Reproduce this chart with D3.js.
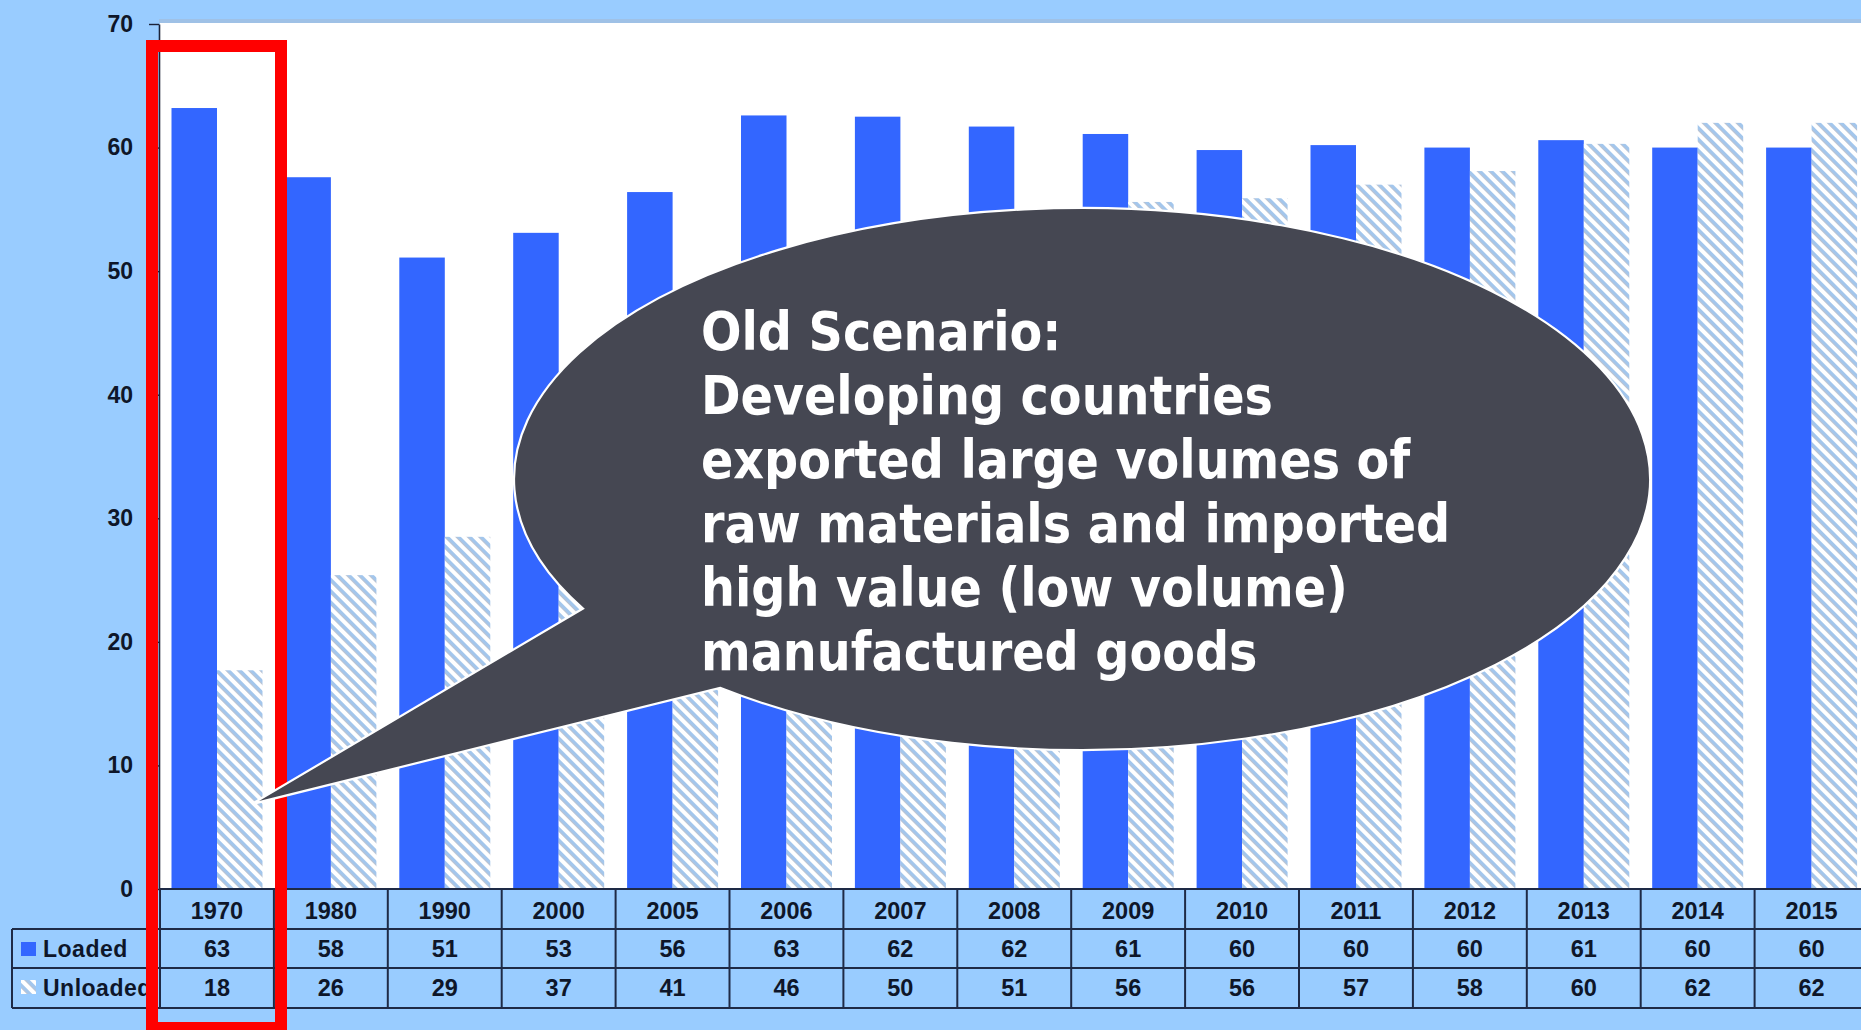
<!DOCTYPE html>
<html><head><meta charset="utf-8">
<script src="https://cdn.jsdelivr.net/npm/d3@7"></script>
<style>
html,body{margin:0;padding:0;background:#99CCFF;overflow:hidden;}
</style></head>
<body>
<script>
const years = ["1970","1980","1990","2000","2005","2006","2007","2008","2009","2010","2011","2012","2013","2014","2015"];
const series = ["Loaded","Unloaded"];
const loaded   = [63.2, 57.6, 51.1, 53.1, 56.4, 62.6, 62.5, 61.7, 61.1, 59.8, 60.2, 60.0, 60.6, 60.0, 60.0];
const unloaded = [17.7, 25.4, 28.5, 37.0, 41.0, 46.0, 50.0, 51.0, 55.6, 55.9, 57.0, 58.1, 60.3, 62.0, 62.0];
const loadedLabels   = ["63","58","51","53","56","63","62","62","61","60","60","60","61","60","60"];
const unloadedLabels = ["18","26","29","37","41","46","50","51","56","56","57","58","60","62","62"];
const yTicks = [0,10,20,30,40,50,60,70];
const calloutLines = ["Old Scenario:","Developing countries","exported large volumes of","raw materials and imported","high value (low volume)","manufactured goods"];

const W = 1861, H = 1030;
const svg = d3.select("body").append("svg").attr("width", W).attr("height", H).style("display","block");
const defs = svg.append("defs");

const pat = defs.append("pattern").attr("id","hatch").attr("patternUnits","userSpaceOnUse")
  .attr("width",8).attr("height",8).attr("patternTransform","rotate(45)");
pat.append("rect").attr("width",8).attr("height",8).attr("fill","#ffffff");
pat.append("rect").attr("y",0).attr("width",8).attr("height",3).attr("fill","#a3c6ec");
pat.append("rect").attr("y",3).attr("width",8).attr("height",0.9).attr("fill","#b3bdcc");

const x0 = 160, colW = 113.9;
const x = d3.scaleBand().domain(years).range([x0, x0 + colW*years.length]);
const xs = d3.scaleBand().domain(series).range([11.5, 102.5]);
const y = d3.scaleLinear().domain([0,70]).range([889, 24]);

// background bands
svg.append("rect").attr("x",0).attr("y",0).attr("width",W).attr("height",H).attr("fill","#99CCFF");
svg.append("rect").attr("x",159).attr("y",19).attr("width",W-159).attr("height",4).attr("fill","#9fc1e6");
svg.append("rect").attr("x",x0).attr("y",23).attr("width",W-x0).attr("height",y(0)-23).attr("fill","#ffffff");

// bars
const groups = svg.append("g").selectAll("g").data(years).join("g")
  .attr("transform", d => `translate(${x(d)},0)`);
groups.append("rect")
  .attr("x", xs("Loaded")).attr("width", xs.bandwidth())
  .attr("y", (d,i) => y(loaded[i])).attr("height", (d,i) => y(0)-y(loaded[i]))
  .attr("fill","#3366FF");
groups.append("rect")
  .attr("x", xs("Unloaded")).attr("width", xs.bandwidth())
  .attr("y", (d,i) => y(unloaded[i])).attr("height", (d,i) => y(0)-y(unloaded[i]))
  .attr("fill","url(#hatch)");

// y axis
const yAxis = d3.axisLeft(y).tickValues(yTicks).tickSize(10).tickSizeOuter(0).tickPadding(16);
const ga = svg.append("g").attr("transform",`translate(159,0)`).call(yAxis);
ga.select(".domain").attr("stroke","#1b2238").attr("stroke-width",1.6);
ga.selectAll(".tick line").attr("stroke","#1b2238").attr("stroke-width",1.4);
ga.selectAll(".tick text").attr("font-family","'Liberation Sans', Arial, sans-serif")
  .attr("font-weight","bold").attr("font-size",23).attr("fill","#0e1629");

// data table
const rowTop = [889, 929, 968, 1008];
const tbl = svg.append("g");
const lineC = "#1e2a46";
const fontT = "'Liberation Sans', Arial, sans-serif";
defs.append("clipPath").attr("id","legclip").append("rect").attr("x",12).attr("y",929).attr("width",147).attr("height",79);
tbl.append("line").attr("x1",159).attr("x2",W).attr("y1",rowTop[0]).attr("y2",rowTop[0]).attr("stroke",lineC).attr("stroke-width",2);
[1,2,3].forEach(k => tbl.append("line").attr("x1",12).attr("x2",W).attr("y1",rowTop[k]).attr("y2",rowTop[k]).attr("stroke",lineC).attr("stroke-width",2));
tbl.append("line").attr("x1",12).attr("x2",12).attr("y1",929).attr("y2",1008).attr("stroke",lineC).attr("stroke-width",2);
tbl.selectAll(".vl").data(years).join("line").attr("class","vl")
  .attr("x1", d => x(d)).attr("x2", d => x(d)).attr("y1",889).attr("y2",1008)
  .attr("stroke",lineC).attr("stroke-width",2);
const tt = (sel) => sel.attr("font-family",fontT).attr("font-weight","bold").attr("font-size",23.5)
  .attr("fill","#0e1629").attr("text-anchor","middle");
tbl.selectAll(".yr").data(years).join("text").attr("class","yr")
  .attr("x", d => x(d) + x.bandwidth()/2).attr("y", 918.5).text(d => d).call(tt);
tbl.selectAll(".ld").data(years).join("text").attr("class","ld")
  .attr("x", d => x(d) + x.bandwidth()/2).attr("y", 957).text((d,i) => loadedLabels[i]).call(tt);
tbl.selectAll(".ul").data(years).join("text").attr("class","ul")
  .attr("x", d => x(d) + x.bandwidth()/2).attr("y", 996).text((d,i) => unloadedLabels[i]).call(tt);
const leg = tbl.append("g").attr("clip-path","url(#legclip)");
leg.append("rect").attr("x",21).attr("y",942).attr("width",15).attr("height",14).attr("fill","#3366FF");
leg.append("rect").attr("x",21).attr("y",980).attr("width",15).attr("height",14).attr("fill","url(#hatch)");
leg.selectAll(".lt").data(series).join("text").attr("class","lt")
  .attr("x",43).attr("y",(d,i) => [957,996][i]).text(d => d)
  .attr("font-family",fontT).attr("font-weight","bold").attr("font-size",23).attr("fill","#0e1629")
  .attr("letter-spacing",0.5);

// red highlight box
svg.append("rect").attr("x",152).attr("y",46).attr("width",129).attr("height",982)
  .attr("fill","none").attr("stroke","#FF0000").attr("stroke-width",12);

// callout
const cx = 1082, cy = 479, rx = 568, ry = 271;
const ptX = (xx, sign) => [xx, cy + sign*ry*Math.sqrt(1 - ((xx-cx)/rx)**2)];
const up = ptX(583, 1), lo = ptX(720, 1);
const tip = [252, 804];
const path = `M${up[0]},${up[1]} A${rx},${ry} 0 1 1 ${lo[0]},${lo[1]} L${tip[0]},${tip[1]} Z`;
svg.append("path").attr("d", path).attr("fill","#454752").attr("stroke","#ffffff").attr("stroke-width",2.2);
svg.append("g").selectAll("text").data(calloutLines).join("text")
  .attr("x",701).attr("y",(d,i) => 350 + i*64).text(d => d)
  .attr("font-family","'DejaVu Sans Condensed', 'DejaVu Sans', sans-serif")
  .attr("font-stretch","condensed")
  .attr("font-weight","bold").attr("font-size",53).attr("fill","#ffffff");
</script>
</body></html>
